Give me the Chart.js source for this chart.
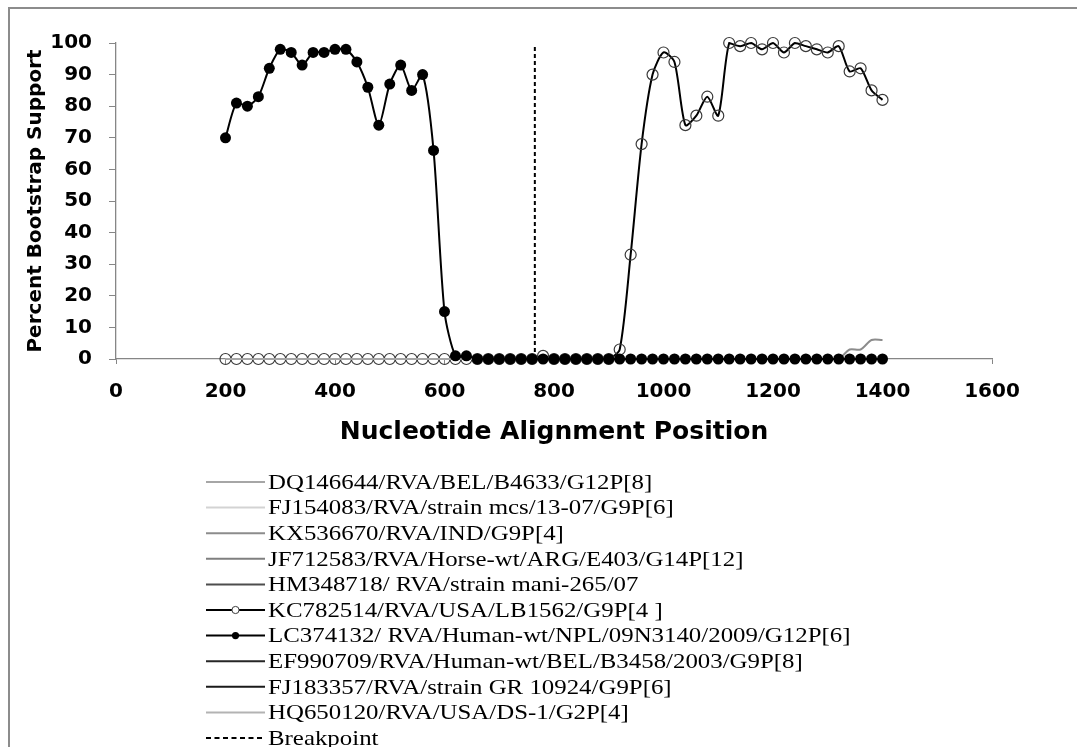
<!DOCTYPE html>
<html>
<head>
<meta charset="UTF-8">
<title>Percent Bootstrap Support</title>
<script src="https://cdn.jsdelivr.net/npm/chart.js"></script>
<style>
  body { margin: 0; background: #fff; overflow: hidden; }
  #frame { position: absolute; left: 8px; top: 7px; width: 1200px; height: 900px;
           border-left: 2px solid #8c8c8c; border-top: 2px solid #8c8c8c; }
  #wrap { position: absolute; left: 0; top: 0; width: 1077px; height: 747px; }
</style>
</head>
<body>
<div id="frame"></div>
<div id="wrap"><canvas id="chart"></canvas></div>
<script>
// alignment positions (window start every 20 nt)
const positions = [200,220,240,260,280,300,320,340,360,380,400,420,440,460,480,500,520,540,560,580,
                   600,620,640,660,680,700,720,740,760,780,800,820,840,860,880,900,920,940,960,980,
                   1000,1020,1040,1060,1080,1100,1120,1140,1160,1180,1200,1220,1240,1260,1280,1300,
                   1320,1340,1360,1380,1400];

// bootstrap support values
const lc374132 = [70,81,80,83,92,98,97,93,97,97,98,98,94,86,74,87,93,85,90,66,
                  15,1,1,0,0,0,0,0,0,0,0,0,0,0,0,0,0,0,0,0,
                  0,0,0,0,0,0,0,0,0,0,0,0,0,0,0,0,0,0,0,0,0];
const kc782514 = [0,0,0,0,0,0,0,0,0,0,0,0,0,0,0,0,0,0,0,0,
                  0,0,0,0,0,0,0,0,0,1,0,0,0,0,0,0,3,33,68,90,
                  97,94,74,77,83,77,100,99,100,98,100,97,100,99,98,97,99,91,92,85,82];
const kx536670 = [0,0,0,0,0,0,0,0,0,0,0,0,0,0,0,0,0,0,0,0,
                  0,0,0,0,0,0,0,0,0,0,0,0,0,0,0,0,0,0,0,0,
                  0,0,0,0,0,0,0,0,0,0,0,0,0,0,0,0,0,3,3,6,6];
const flat     = [0,0,0,0,0,0,0,0,0,0,0,0,0,0,0,0,0,0,0,0,
                  0,0,0,0,0,0,0,0,0,0,0,0,0,0,0,0,0,0,0,0,
                  0,0,0,0,0,0,0,0,0,0,0,0,0,0,0,0,0,0,0,0,0];
const breakX = [765, 765];
const breakY = [0, 99];

const xTicks = [0, 200, 400, 600, 800, 1000, 1200, 1400, 1600];

function pts(xs, ys) { return xs.map((x, i) => ({ x: x, y: ys[i] })); }

function flatLine(label, color, order) {
  return { label: label, data: pts(positions, flat), borderColor: color, borderWidth: 2,
           pointRadius: 0, order: order, clip: false };
}

const datasets = [
  flatLine('DQ146644/RVA/BEL/B4633/G12P[8]', '#a6a6a6', 2),
  flatLine('FJ154083/RVA/strain mcs/13-07/G9P[6]', '#d3d3d3', 3),
  { label: 'KX536670/RVA/IND/G9P[4]', data: pts(positions, kx536670), borderColor: '#8c8c8c',
    borderWidth: 2, pointRadius: 0, tension: 0.3, order: 2, clip: false },
  flatLine('JF712583/RVA/Horse-wt/ARG/E403/G14P[12]', '#7f7f7f', 4),
  flatLine('HM348718/ RVA/strain mani-265/07', '#4d4d4d', 5),
  { label: 'KC782514/RVA/USA/LB1562/G9P[4 ]', data: pts(positions, kc782514), borderColor: '#000',
    borderWidth: 2, tension: 0.25, pointRadius: 5.5, pointBorderWidth: 1.2,
    pointBorderColor: '#3a3a3a', pointBackgroundColor: 'rgba(255,255,255,0)', order: 8, clip: false },
  { label: 'LC374132/ RVA/Human-wt/NPL/09N3140/2009/G12P[6]', data: pts(positions, lc374132),
    borderColor: '#000', borderWidth: 2, tension: 0.25, pointRadius: 5.5, pointBorderWidth: 0,
    pointBackgroundColor: '#000', order: 0, clip: false },
  flatLine('EF990709/RVA/Human-wt/BEL/B3458/2003/G9P[8]', '#262626', 6),
  flatLine('FJ183357/RVA/strain GR 10924/G9P[6]', '#1a1a1a', 7),
  flatLine('HQ650120/RVA/USA/DS-1/G2P[4]', '#b3b3b3', 3),
  { label: 'Breakpoint', data: pts(breakX, breakY), borderColor: '#000', borderWidth: 2,
    borderDash: [4, 3], pointRadius: 0, order: 1, clip: false }
];

// legend drawn as a single column under the plot, Excel style
const columnLegend = {
  id: 'columnLegend',
  afterDraw(chart) {
    const ctx = chart.ctx;
    ctx.save();
    chart.data.datasets.forEach((ds, i) => {
      const y = 482 + i * 25.6;
      ctx.strokeStyle = ds.borderColor;
      ctx.lineWidth = 2;
      ctx.setLineDash(ds.borderDash ? [5, 3.5] : []);
      ctx.beginPath();
      ctx.moveTo(206, y);
      ctx.lineTo(265, y);
      ctx.stroke();
      ctx.setLineDash([]);
      if (ds.pointRadius > 0) {
        ctx.beginPath();
        ctx.arc(235.5, y, 3.6, 0, Math.PI * 2);
        if (ds.pointBorderWidth > 0) {
          ctx.fillStyle = '#fff';
          ctx.fill();
          ctx.lineWidth = 1;
          ctx.strokeStyle = ds.pointBorderColor;
          ctx.stroke();
        } else {
          ctx.fillStyle = '#000';
          ctx.fill();
        }
      }
      ctx.save();
      ctx.translate(268, y);
      ctx.scale(1.13, 1);
      ctx.fillStyle = '#000';
      ctx.font = '22px "Liberation Serif"';
      ctx.textBaseline = 'middle';
      ctx.fillText(ds.label, 0, 1);
      ctx.restore();
    });
    ctx.restore();
  }
};

const ctx = document.getElementById('chart').getContext('2d');
new Chart(ctx, {
  type: 'line',
  data: { datasets: datasets },
  options: {
    responsive: true,
    maintainAspectRatio: false,
    animation: false,
    events: [],
    layout: { padding: { left: 24, top: 43, right: 85, bottom: 300 } },
    plugins: { legend: { display: false }, tooltip: { enabled: false } },
    scales: {
      x: {
        type: 'linear', min: 0, max: 1600,
        afterBuildTicks: s => { s.ticks = xTicks.map(v => ({ value: v })); },
        afterFit: s => { s.height = 88; },
        border: { color: '#868686', width: 1.3 },
        grid: { drawOnChartArea: false, color: '#868686', tickLength: 5 },
        ticks: { color: '#000', padding: 16, maxRotation: 0, callback: v => String(v),
                 font: { family: 'DejaVu Sans', weight: 'bold', size: 20 } },
        title: { display: true, text: 'Nucleotide Alignment Position', color: '#000',
                 padding: 0, font: { family: 'DejaVu Sans', weight: 'bold', size: 25, lineHeight: 1.2 } }
      },
      y: {
        min: 0, max: 100,
        ticks: { stepSize: 10, color: '#000', padding: 17, callback: v => String(v),
                 font: { family: 'DejaVu Sans', weight: 'bold', size: 20 } },
        afterFit: s => { s.width = 92; },
        border: { color: '#868686', width: 1.3 },
        grid: { drawOnChartArea: false, color: '#868686', tickLength: 7 },
        title: { display: true, text: 'Percent Bootstrap Support', color: '#000',
                 padding: 0, font: { family: 'DejaVu Sans', weight: 'bold', size: 20, lineHeight: 1.2 } }
      }
    }
  },
  plugins: [columnLegend]
});
</script>
</body>
</html>
